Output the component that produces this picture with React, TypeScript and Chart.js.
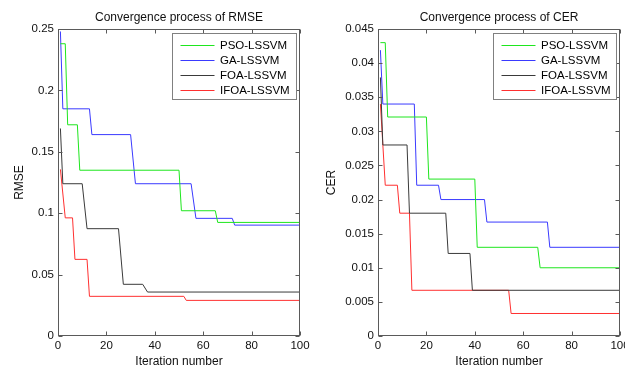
import React, { useEffect, useRef } from 'react';
import { Chart, registerables } from 'chart.js';

Chart.register(...registerables);

const FONT = '"Liberation Sans", Arial, Helvetica, sans-serif';

const seriesNames = ['PSO-LSSVM', 'GA-LSSVM', 'FOA-LSSVM', 'IFOA-LSSVM'];
const seriesColors = ['#1ee61e', '#3a3aff', '#3a3a3a', '#ff3030'];

const iterTicks = [0, 20, 40, 60, 80, 100];
const iterTickLabels = ['0', '20', '40', '60', '80', '100'];
const rmseTicks = [0, 0.05, 0.1, 0.15, 0.2, 0.25];
const rmseTickLabels = ['0', '0.05', '0.1', '0.15', '0.2', '0.25'];
const cerTicks = [0, 0.005, 0.01, 0.015, 0.02, 0.025, 0.03, 0.035, 0.04, 0.045];
const cerTickLabels = ['0', '0.005', '0.01', '0.015', '0.02', '0.025', '0.03', '0.035', '0.04', '0.045'];

// [iteration, value] at each change point
const rmsePso: [number, number][] = [[1, 0.238], [3, 0.238], [4, 0.172], [8, 0.172], [9, 0.135], [50, 0.135], [51, 0.102], [65, 0.102], [66, 0.0925], [100, 0.0925]];
const rmseGa: [number, number][] = [[1, 0.248], [2, 0.185], [13, 0.185], [14, 0.164], [30, 0.164], [32, 0.124], [55, 0.124], [57, 0.0958], [72, 0.0958], [73, 0.0903], [100, 0.0903]];
const rmseFoa: [number, number][] = [[1, 0.169], [2, 0.124], [10, 0.124], [12, 0.0874], [25, 0.0874], [27, 0.0421], [35, 0.0421], [37, 0.0358], [100, 0.0358]];
const rmseIfoa: [number, number][] = [[1, 0.1357], [3, 0.0962], [6, 0.0962], [7, 0.0624], [12, 0.0624], [13, 0.0323], [52, 0.0323], [53, 0.029], [100, 0.029]];

const cerPso: [number, number][] = [[1, 0.043], [3, 0.043], [4, 0.0321], [20, 0.0321], [21, 0.023], [40, 0.023], [41, 0.013], [66, 0.013], [67, 0.01], [100, 0.01]];
const cerGa: [number, number][] = [[1, 0.0419], [2, 0.034], [15, 0.034], [16, 0.0221], [25, 0.0221], [26, 0.02], [44, 0.02], [45, 0.0167], [70, 0.0167], [71, 0.013], [100, 0.013]];
const cerFoa: [number, number][] = [[1, 0.0379], [2, 0.028], [12, 0.028], [13, 0.018], [28, 0.018], [29, 0.0121], [38, 0.0121], [39, 0.0067], [100, 0.0067]];
const cerIfoa: [number, number][] = [[1, 0.034], [3, 0.0221], [8, 0.0221], [9, 0.018], [13, 0.018], [14, 0.0067], [54, 0.0067], [55, 0.0033], [100, 0.0033]];

const framePlugin = {
  id: 'matlabFrame',
  afterDatasetsDraw(chart: any) {
    const { ctx, chartArea } = chart;
    const l = Math.round(chartArea.left) + 0.5;
    const r = Math.round(chartArea.right) - 0.5;
    const t = Math.round(chartArea.top) + 0.5;
    const b = Math.round(chartArea.bottom) - 0.5;
    ctx.save();
    ctx.strokeStyle = '#5a5a5a';
    ctx.lineWidth = 1;
    ctx.strokeRect(l, t, r - l, b - t);
    const tl = 4;
    const xs = chart.scales.x;
    const ys = chart.scales.y;
    ctx.beginPath();
    xs.ticks.forEach((tk: any) => {
      const px = Math.round(xs.getPixelForValue(tk.value)) + 0.5;
      ctx.moveTo(px, b); ctx.lineTo(px, b - tl);
      ctx.moveTo(px, t); ctx.lineTo(px, t + tl);
    });
    ys.ticks.forEach((tk: any) => {
      const py = Math.round(ys.getPixelForValue(tk.value)) + 0.5;
      ctx.moveTo(l, py); ctx.lineTo(l + tl, py);
      ctx.moveTo(r, py); ctx.lineTo(r - tl, py);
    });
    ctx.stroke();
    ctx.restore();
  },
};

const legendPlugin = {
  id: 'insideLegend',
  afterDraw(chart: any, _args: any, opts: any) {
    const { ctx, chartArea } = chart;
    const w = opts.width || 124;
    const h = 66;
    const x0 = Math.round(chartArea.right - 4 - w) + 0.5;
    const y0 = Math.round(chartArea.top + 4) + 0.5;
    ctx.save();
    ctx.fillStyle = '#ffffff';
    ctx.fillRect(x0, y0, w, h);
    ctx.strokeStyle = '#808080';
    ctx.lineWidth = 1;
    ctx.strokeRect(x0, y0, w, h);
    ctx.font = `11.5px ${FONT}`;
    ctx.textBaseline = 'middle';
    ctx.textAlign = 'left';
    chart.data.datasets.forEach((ds: any, i: number) => {
      const cy = Math.round(y0 + 11 + i * 15.2) + 0.5;
      ctx.strokeStyle = ds.borderColor;
      ctx.beginPath();
      ctx.moveTo(x0 + 8, cy);
      ctx.lineTo(x0 + 42, cy);
      ctx.stroke();
      ctx.fillStyle = '#000';
      ctx.fillText(ds.label, x0 + 47.5, cy + 0.5);
    });
    ctx.restore();
  },
};

type PanelProps = {
  left: number;
  width: number;
  yWidth: number;
  padRight: number;
  yTitlePad: number;
  legendWidth: number;
  title: string;
  yTitle: string;
  yMax: number;
  yTicks: number[];
  yTickLabels: string[];
  series: [number, number][][];
};

function Panel(p: PanelProps) {
  const ref = useRef<HTMLCanvasElement | null>(null);
  useEffect(() => {
    if (!ref.current) return;
    const tickFont = { family: FONT, size: 11.5 };
    const titleFont = { family: FONT, size: 12 };
    const noPad = (s: any) => { s.paddingLeft = 0; s.paddingRight = 0; };
    const chart = new Chart(ref.current, {
      type: 'line',
      data: {
        datasets: p.series.map((s, i) => ({
          label: seriesNames[i],
          data: s.map(([x, y]) => ({ x, y })),
          borderColor: seriesColors[i],
          backgroundColor: seriesColors[i],
          borderWidth: 1,
          pointRadius: 0,
          tension: 0,
          fill: false,
        })),
      },
      options: {
        animation: false,
        responsive: false,
        devicePixelRatio: 1,
        layout: { padding: { left: 0, right: p.padRight, top: 0, bottom: 0 } },
        plugins: {
          legend: { display: false },
          title: { display: false },
          tooltip: { enabled: false },
          insideLegend: { width: p.legendWidth },
        } as any,
        scales: {
          x: {
            type: 'linear',
            position: 'bottom',
            min: 0,
            max: 100,
            afterBuildTicks: (s: any) => { s.ticks = iterTicks.map((v) => ({ value: v })); },
            afterFit: (s: any) => { s.height = 31; noPad(s); },
            ticks: {
              font: tickFont,
              color: '#111',
              padding: 3,
              maxRotation: 0,
              callback: (_v: any, i: number) => iterTickLabels[i],
            },
            grid: { display: false, drawTicks: false },
            border: { display: false },
            title: { display: true, text: 'Iteration number', font: titleFont, color: '#111', padding: { top: 0, bottom: -2 } },
          },
          xTop: {
            type: 'linear',
            position: 'top',
            min: 0,
            max: 100,
            afterFit: (s: any) => { s.height = 29; noPad(s); },
            ticks: { display: false },
            grid: { display: false, drawTicks: false },
            border: { display: false },
            title: { display: true, text: p.title, font: titleFont, color: '#111', padding: { top: 10, bottom: 0 } },
          },
          y: {
            type: 'linear',
            min: 0,
            max: p.yMax,
            afterBuildTicks: (s: any) => { s.ticks = p.yTicks.map((v) => ({ value: v })); },
            afterFit: (s: any) => { s.width = p.yWidth; s.paddingTop = 0; s.paddingBottom = 0; },
            ticks: {
              font: tickFont,
              color: '#111',
              padding: 4,
              callback: (_v: any, i: number) => p.yTickLabels[i],
            },
            grid: { display: false, drawTicks: false },
            border: { display: false },
            title: { display: true, text: p.yTitle, font: titleFont, color: '#111', padding: { top: p.yTitlePad, bottom: 0 } },
          },
        },
      } as any,
      plugins: [framePlugin, legendPlugin],
    });
    return () => chart.destroy();
  }, []);
  return (
    <canvas
      ref={ref}
      width={p.width}
      height={367}
      style={{ position: 'absolute', left: p.left, top: 0, width: p.width, height: 367, display: 'block' }}
    />
  );
}

export default function App() {
  return (
    <div style={{ position: 'fixed', left: 0, top: 0, width: 625, height: 367, background: '#fff', overflow: 'hidden' }}>
      <Panel
        left={0}
        width={310}
        yWidth={58}
        padRight={10}
        yTitlePad={12}
        legendWidth={124}
        title="Convergence process of RMSE"
        yTitle="RMSE"
        yMax={0.25}
        yTicks={rmseTicks}
        yTickLabels={rmseTickLabels}
        series={[rmsePso, rmseGa, rmseFoa, rmseIfoa]}
      />
      <Panel
        left={310}
        width={315}
        yWidth={68}
        padRight={5}
        yTitlePad={14}
        legendWidth={123}
        title="Convergence process of CER"
        yTitle="CER"
        yMax={0.045}
        yTicks={cerTicks}
        yTickLabels={cerTickLabels}
        series={[cerPso, cerGa, cerFoa, cerIfoa]}
      />
    </div>
  );
}
